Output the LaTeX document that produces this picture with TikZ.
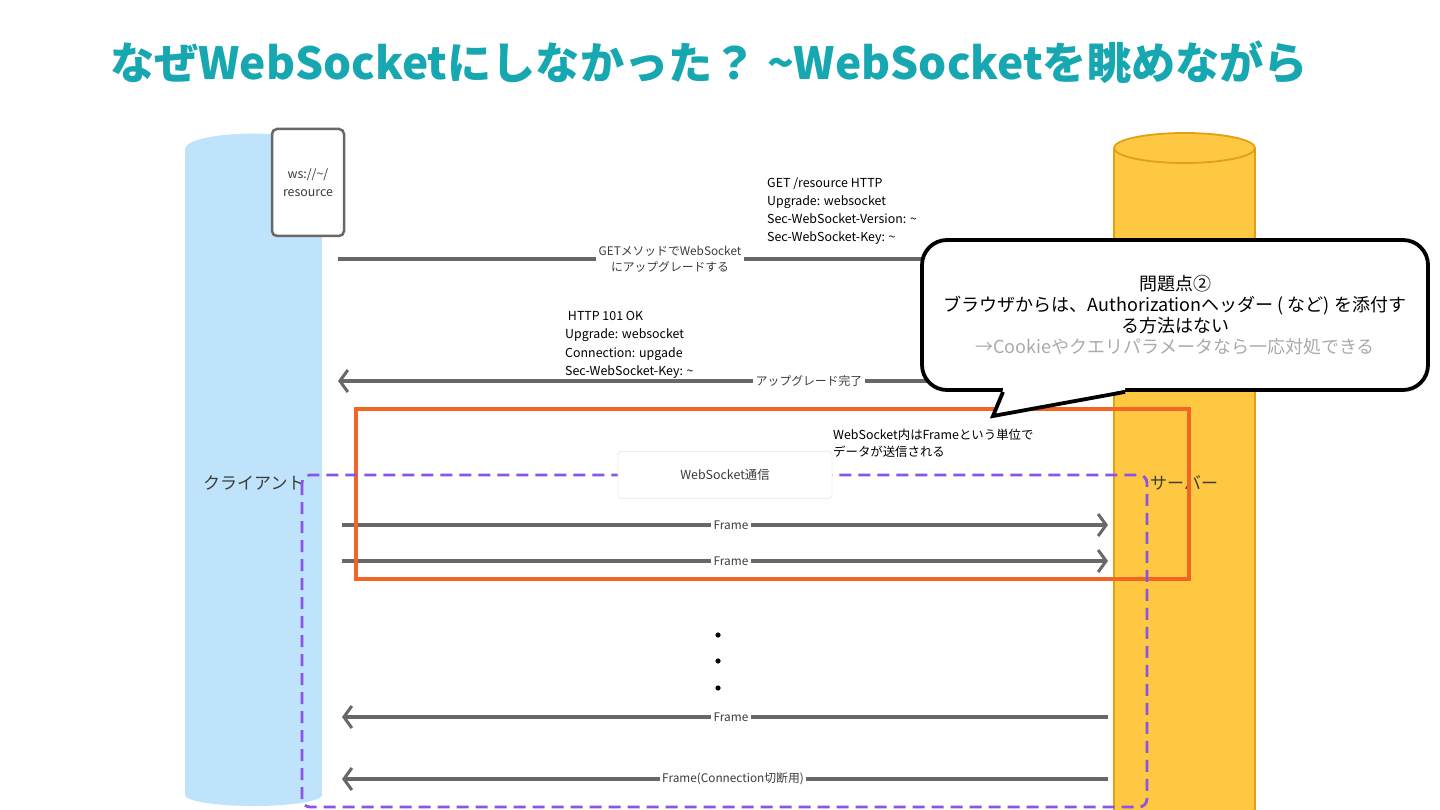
\documentclass[tikz,border=0pt]{standalone}
\usepackage{fontspec}
\newfontfamily\jp{Noto Sans CJK JP}
\usetikzlibrary{arrows.meta}
\definecolor{teal}{RGB}{22,167,177}
\definecolor{cliblue}{RGB}{190,227,251}
\definecolor{srvfill}{RGB}{254,200,66}
\definecolor{srvline}{RGB}{226,160,20}
\definecolor{orng}{RGB}{242,101,34}
\definecolor{purp}{RGB}{138,84,230}
\definecolor{arrgray}{RGB}{104,104,104}
\definecolor{txtgray}{RGB}{60,60,60}
\begin{document}
\begin{tikzpicture}[x=1pt,y=-1pt,
  arr/.style={draw=arrgray,line width=3.2pt,-{Straight Barb[length=8pt,width=22pt,line width=3pt]}},
  lbl/.style={fill=white,inner sep=2.5pt,font=\jp\fontsize{11.8}{15.5}\selectfont,text=txtgray,align=center},
  hdr/.style={anchor=north west,inner sep=0pt,font=\jp\fontsize{12.4}{18.3}\selectfont,align=left,text=black},
  lane/.style={font=\jp\fontsize{17}{20}\selectfont,text=txtgray,inner sep=0pt}]
\useasboundingbox (0,0) rectangle (1440,810);
\fill[white] (0,0) rectangle (1440,810);
% title
\node[anchor=west,inner sep=0pt,font=\jp\bfseries\fontsize{44.2}{50}\selectfont,text=teal] (title) at (110,62) {なぜWebSocketにしなかった？ \textasciitilde WebSocketを眺めながら};
% client cylinder
\fill[cliblue] (185,148) rectangle (322,795);
\fill[cliblue] (253.5,795) ellipse [x radius=68.5,y radius=11];
\fill[cliblue] (253.5,148) ellipse [x radius=68.5,y radius=15];
\draw[white,line width=1pt] (185,148) arc[start angle=180,end angle=360,x radius=68.5,y radius=15];
% server cylinder
\fill[srvfill] (1114,148) rectangle (1255,815);
\draw[srvline,line width=1.8pt] (1114,148) -- (1114,815) (1255,148) -- (1255,815);
\draw[srvline,line width=1.8pt,fill=srvfill] (1184.5,148) ellipse [x radius=70.5,y radius=15];
% ws box
\node[draw=arrgray,line width=2.5pt,fill=white,rounded corners=5pt,minimum width=72pt,minimum height=107pt,inner sep=0pt,align=center,font=\jp\fontsize{12.4}{18}\selectfont,text=txtgray] (ws) at (308,182.5) {ws://\textasciitilde/\\resource};
% lane names
\node[lane,anchor=west] (cli) at (203,483) {クライアント};
\node[lane,anchor=west] (srv) at (1150,483) {サーバー};
% coordinates
\coordinate (a1s) at (338,259); \coordinate (a1e) at (1108,259);
\coordinate (a2s) at (1108,381); \coordinate (a2e) at (338,381);
\coordinate (f1s) at (342,525); \coordinate (f1e) at (1108,525);
\coordinate (f2s) at (342,561); \coordinate (f2e) at (1108,561);
\coordinate (f3s) at (1108,717); \coordinate (f3e) at (342,717);
\coordinate (f4s) at (1108,779); \coordinate (f4e) at (342,779);
% arrows
\draw[arr] (a1s) -- (a1e);
\node[lbl] (l1) at (670,259) {GETメソッドでWebSocket\\にアップグレードする};
\node[hdr] (h1) at (767,177) {GET /resource HTTP\\Upgrade: websocket\\Sec-WebSocket-Version: \textasciitilde\\Sec-WebSocket-Key: \textasciitilde};
\draw[arr] (a2s) -- (a2e);
\node[lbl] (l2) at (809,381) {アップグレード完了};
\node[hdr] (h2) at (565,311) {\ HTTP 101 OK\\Upgrade: websocket\\Connection: upgade\\Sec-WebSocket-Key: \textasciitilde};
\draw[arr] (f1s) -- (f1e);
\node[lbl] (l3) at (731,525) {Frame};
\draw[arr] (f2s) -- (f2e);
\node[lbl] (l4) at (731,561) {Frame};
\draw[arr] (f3s) -- (f3e);
\node[lbl] (l5) at (731,717) {Frame};
\draw[arr] (f4s) -- (f4e);
\node[lbl] (l6) at (733,779) {Frame(Connection切断用)};
% dots
\fill (718,635) circle (2.6pt) (718,661) circle (2.6pt) (718,688) circle (2.6pt);
% orange rect
\draw[orng,line width=3.8pt] (356,409) rectangle (1189,579);
% purple dashed
\draw[purp,line width=2.8pt,dash pattern=on 12pt off 7pt,rounded corners=8pt] (302,475) rectangle (1147,807);
% websocket comm box
\node[draw={rgb,255:red,236;green,236;blue,236},line width=0.8pt,fill=white,rounded corners=3pt,minimum width=214pt,minimum height=47pt,font=\jp\fontsize{12.4}{15}\selectfont,text=txtgray] (wsc) at (725,475) {WebSocket通信};
\node[hdr,font=\jp\fontsize{12.4}{17}\selectfont] (fr) at (833,429) {WebSocket内はFrameという単位で\\データが送信される};
% callout
\node[draw=black,line width=3.8pt,fill=white,rounded corners=25pt,minimum width=506pt,minimum height=150pt,inner sep=0pt] (co) at (1175,315) {};
\fill[white] (1003,384) -- (1003,390) -- (993,416) -- (1125,390) -- (1125,384) -- cycle;
\draw[black,line width=3.8pt,line join=miter] ([xshift=-172pt]co.south) -- (993,416) -- ([xshift=-50pt]co.south);
\node[align=center,inner sep=0pt,font=\jp\fontsize{18}{20.8}\selectfont,text=black] (cot) at (1175,315) {問題点②\\ブラウザからは、Authorizationヘッダー ( など) を添付す\\る方法はない\\\textcolor[RGB]{170,170,170}{→Cookieやクエリパラメータなら一応対処できる}};
\end{tikzpicture}
\end{document}
